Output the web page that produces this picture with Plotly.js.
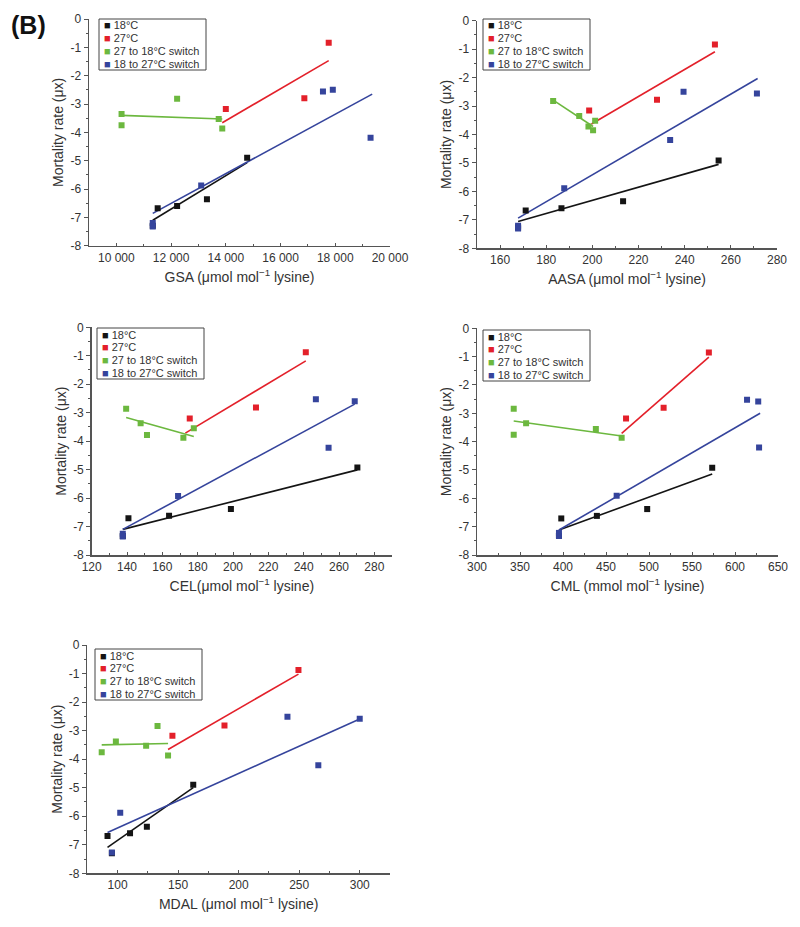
<!DOCTYPE html>
<html>
<head>
<meta charset="utf-8">
<script src="https://cdn.plot.ly/plotly-3.0.1.min.js"></script>
<style>html,body{margin:0;padding:0;background:#fff}#chart{width:800px;height:927px}</style>
</head>
<body>
<div id="chart"></div>
<script>
// ---------- DATA ----------
const seriesNames = ["18°C", "27°C", "27 to 18°C switch", "18 to 27°C switch"];
const yTickVals = [0, -1, -2, -3, -4, -5, -6, -7, -8];
const yTickText = ["0", "-1", "-2", "-3", "-4", "-5", "-6", "-7", "-8"];
const yTitle = "Mortality rate (μx)";

// Panel 1: GSA
const gsaTitle = "GSA (μmol mol<sup>−1</sup> lysine)";
const gsaTickVals = [10000, 12000, 14000, 16000, 18000, 20000];
const gsaTickText = ["10 000", "12 000", "14 000", "16 000", "18 000", "20 000"];
const gsaBlackX = [11330, 11510, 12220, 13310, 14780];
const gsaBlackY = [-7.3, -6.68, -6.6, -6.36, -4.9];
const gsaRedX = [14000, 16870, 17760];
const gsaRedY = [-3.18, -2.8, -0.84];
const gsaGreenX = [10190, 10190, 12220, 13740, 13870];
const gsaGreenY = [-3.35, -3.75, -2.81, -3.53, -3.86];
const gsaBlueX = [11330, 11330, 13100, 17550, 17910, 19290];
const gsaBlueY = [-7.2, -7.32, -5.88, -2.56, -2.5, -4.19];
const gsaFitBlackX = [11330, 14780], gsaFitBlackY = [-7.1, -5.07];
const gsaFitRedX = [13870, 17760], gsaFitRedY = [-3.66, -1.47];
const gsaFitGreenX = [10190, 13870], gsaFitGreenY = [-3.4, -3.53];
const gsaFitBlueX = [11330, 19350], gsaFitBlueY = [-6.86, -2.65];

// Panel 2: AASA
const aasaTitle = "AASA (μmol mol<sup>−1</sup> lysine)";
const aasaTickVals = [160, 180, 200, 220, 240, 260, 280];
const aasaTickText = ["160", "180", "200", "220", "240", "260", "280"];
const aasaBlackX = [167.8, 171.1, 186.6, 213.3, 254.7];
const aasaBlackY = [-7.27, -6.67, -6.59, -6.35, -4.91];
const aasaRedX = [198.6, 228, 253.1];
const aasaRedY = [-3.16, -2.78, -0.84];
const aasaGreenX = [183, 194.3, 198.3, 200.3, 201.2];
const aasaGreenY = [-2.82, -3.35, -3.72, -3.85, -3.52];
const aasaBlueX = [167.8, 167.8, 187.8, 233.7, 239.5, 271.3];
const aasaBlueY = [-7.21, -7.3, -5.89, -4.19, -2.5, -2.56];
const aasaFitBlackX = [167.8, 254.7], aasaFitBlackY = [-7.06, -5.05];
const aasaFitRedX = [199.6, 253.1], aasaFitRedY = [-3.63, -1.09];
const aasaFitGreenX = [183, 200.3], aasaFitGreenY = [-2.79, -3.72];
const aasaFitBlueX = [167.8, 271.6], aasaFitBlueY = [-6.94, -2.03];

// Panel 3: CEL
const celTitle = "CEL(μmol mol<sup>−1</sup> lysine)";
const celTickVals = [120, 140, 160, 180, 200, 220, 240, 260, 280];
const celTickText = ["120", "140", "160", "180", "200", "220", "240", "260", "280"];
const celBlackX = [137.6, 140.8, 163.8, 198.8, 270.4];
const celBlackY = [-7.33, -6.71, -6.62, -6.38, -4.93];
const celRedX = [175.5, 213, 241.2];
const celRedY = [-3.2, -2.82, -0.88];
const celGreenX = [139.5, 147.7, 151.3, 171.9, 177.8];
const celGreenY = [-2.86, -3.37, -3.78, -3.88, -3.55];
const celBlueX = [137.6, 137.6, 168.9, 246.9, 254.1, 268.9];
const celBlueY = [-7.25, -7.35, -5.93, -2.53, -4.23, -2.6];
const celFitBlackX = [137.6, 270.4], celFitBlackY = [-7.1, -5.01];
const celFitRedX = [173, 241.2], celFitRedY = [-3.72, -1.18];
const celFitGreenX = [139.5, 177.8], celFitGreenY = [-3.17, -3.84];
const celFitBlueX = [137.6, 268.9], celFitBlueY = [-7.1, -2.7];

// Panel 4: CML
const cmlTitle = "CML (mmol mol<sup>−1</sup> lysine)";
const cmlTickVals = [300, 350, 400, 450, 500, 550, 600, 650];
const cmlTickText = ["300", "350", "400", "450", "500", "550", "600", "650"];
const cmlBlackX = [395.3, 398, 439.4, 497.9, 573.5];
const cmlBlackY = [-7.32, -6.71, -6.62, -6.38, -4.92];
const cmlRedX = [473.3, 517, 569.6];
const cmlRedY = [-3.18, -2.8, -0.85];
const cmlGreenX = [342.7, 342.7, 357.1, 438.2, 468.2];
const cmlGreenY = [-2.84, -3.76, -3.35, -3.55, -3.86];
const cmlBlueX = [395.3, 395.3, 462.4, 614, 627, 628];
const cmlBlueY = [-7.22, -7.33, -5.91, -2.52, -2.58, -4.21];
const cmlFitBlackX = [395.3, 573.5], cmlFitBlackY = [-7.12, -5.14];
const cmlFitRedX = [468.2, 569.6], cmlFitRedY = [-3.71, -1.02];
const cmlFitGreenX = [342.7, 468.2], cmlFitGreenY = [-3.27, -3.8];
const cmlFitBlueX = [395.3, 629.2], cmlFitBlueY = [-7.12, -3.0];

// Panel 5: MDAL
const mdalTitle = "MDAL (μmol mol<sup>−1</sup> lysine)";
const mdalTickVals = [100, 150, 200, 250, 300];
const mdalTickText = ["100", "150", "200", "250", "300"];
const mdalBlackX = [95.3, 91.7, 110.3, 124.2, 162.5];
const mdalBlackY = [-7.3, -6.69, -6.6, -6.37, -4.9];
const mdalRedX = [145.3, 188.3, 249.4];
const mdalRedY = [-3.18, -2.82, -0.88];
const mdalGreenX = [86.9, 98.6, 123.6, 133, 141.7];
const mdalGreenY = [-3.76, -3.38, -3.53, -2.84, -3.87];
const mdalBlueX = [95.3, 102.2, 240.3, 265.8, 300];
const mdalBlueY = [-7.27, -5.88, -2.51, -4.21, -2.58];
const mdalFitBlackX = [91.7, 162.5], mdalFitBlackY = [-7.09, -5.0];
const mdalFitRedX = [141.7, 249.4], mdalFitRedY = [-3.66, -1.02];
const mdalFitGreenX = [86.9, 141.7], mdalFitGreenY = [-3.5, -3.45];
const mdalFitBlueX = [91.7, 300], mdalFitBlueY = [-6.57, -2.59];

// ---------- STYLE / LAYOUT ----------
const W = 800, H = 927;
const COLORS = ["#141414", "#e3202a", "#6cb83f", "#35449c"];
const FONT = "Liberation Sans, Arial, sans-serif";

const panels = [
  { title: gsaTitle, tv: gsaTickVals, tt: gsaTickText, range: [9000, 20000], minor: 1000,
    box: [89, 390, 19, 245.7], leg: [99, 19],
    pts: [[gsaBlackX, gsaBlackY], [gsaRedX, gsaRedY], [gsaGreenX, gsaGreenY], [gsaBlueX, gsaBlueY]],
    fits: [[gsaFitBlackX, gsaFitBlackY], [gsaFitRedX, gsaFitRedY], [gsaFitGreenX, gsaFitGreenY], [gsaFitBlueX, gsaFitBlueY]] },
  { title: aasaTitle, tv: aasaTickVals, tt: aasaTickText, range: [150, 280], minor: 10,
    box: [477, 777, 20.7, 248.3], leg: [483, 19],
    pts: [[aasaBlackX, aasaBlackY], [aasaRedX, aasaRedY], [aasaGreenX, aasaGreenY], [aasaBlueX, aasaBlueY]],
    fits: [[aasaFitBlackX, aasaFitBlackY], [aasaFitRedX, aasaFitRedY], [aasaFitGreenX, aasaFitGreenY], [aasaFitBlueX, aasaFitBlueY]] },
  { title: celTitle, tv: celTickVals, tt: celTickText, range: [120, 290], minor: 10,
    box: [91.7, 392, 327.3, 555], leg: [97, 328],
    pts: [[celBlackX, celBlackY], [celRedX, celRedY], [celGreenX, celGreenY], [celBlueX, celBlueY]],
    fits: [[celFitBlackX, celFitBlackY], [celFitRedX, celFitRedY], [celFitGreenX, celFitGreenY], [celFitBlueX, celFitBlueY]] },
  { title: cmlTitle, tv: cmlTickVals, tt: cmlTickText, range: [300, 650], minor: 25,
    box: [477, 778, 328.3, 555], leg: [483, 330],
    pts: [[cmlBlackX, cmlBlackY], [cmlRedX, cmlRedY], [cmlGreenX, cmlGreenY], [cmlBlueX, cmlBlueY]],
    fits: [[cmlFitBlackX, cmlFitBlackY], [cmlFitRedX, cmlFitRedY], [cmlFitGreenX, cmlFitGreenY], [cmlFitBlueX, cmlFitBlueY]] },
  { title: mdalTitle, tv: mdalTickVals, tt: mdalTickText, range: [75, 325], minor: 25,
    box: [87.3, 390, 645, 873.3], leg: [95, 649],
    pts: [[mdalBlackX, mdalBlackY], [mdalRedX, mdalRedY], [mdalGreenX, mdalGreenY], [mdalBlueX, mdalBlueY]],
    fits: [[mdalFitBlackX, mdalFitBlackY], [mdalFitRedX, mdalFitRedY], [mdalFitGreenX, mdalFitGreenY], [mdalFitBlueX, mdalFitBlueY]] }
];

const traces = [];
const layout = {
  width: W, height: H,
  margin: { l: 0, r: 0, t: 0, b: 0 },
  paper_bgcolor: "#fff", plot_bgcolor: "#fff",
  showlegend: false,
  font: { family: FONT, color: "#333", size: 12 },
  annotations: [], shapes: []
};

panels.forEach((p, i) => {
  const s = i === 0 ? "" : String(i + 1);
  const xa = "x" + s, ya = "y" + s;
  p.fits.forEach((f, k) => {
    traces.push({ type: "scatter", mode: "lines", x: f[0], y: f[1], xaxis: xa, yaxis: ya,
      name: seriesNames[k] + " fit",
      line: { color: COLORS[k], width: 1.6 }, hoverinfo: "skip", showlegend: false });
  });
  p.pts.forEach((d, k) => {
    traces.push({ type: "scatter", mode: "markers", x: d[0], y: d[1], xaxis: xa, yaxis: ya,
      name: seriesNames[k], marker: { symbol: "square", size: 6, color: COLORS[k], line: { width: 0 } },
      showlegend: false });
  });
  const [L, R, T, B] = p.box;
  layout["xaxis" + s] = {
    domain: [L / W, R / W], anchor: ya, range: p.range,
    showline: true, linecolor: "#555", linewidth: 1.5, showgrid: false, zeroline: false,
    tickmode: "array", tickvals: p.tv, ticktext: p.tt,
    ticks: "inside", ticklen: 3, tickwidth: 1, tickcolor: "#555",
    minor: { ticks: "inside", ticklen: 2, dtick: p.minor, tick0: p.tv[0], tickcolor: "#555", showgrid: false },
    tickfont: { family: FONT, size: 12, color: "#333" },
    title: { text: p.title, font: { family: FONT, size: 14, color: "#333" }, standoff: 8 },
    fixedrange: true
  };
  layout["yaxis" + s] = {
    domain: [1 - B / H, 1 - T / H], anchor: xa, range: [-8, 0],
    showline: true, linecolor: "#555", linewidth: 1.5, showgrid: false, zeroline: false,
    tickmode: "array", tickvals: yTickVals, ticktext: yTickText,
    ticks: "outside", ticklen: 4, tickwidth: 1, tickcolor: "#555",
    minor: { ticks: "outside", ticklen: 2, dtick: 0.5, tick0: 0, tickcolor: "#555", showgrid: false },
    tickfont: { family: FONT, size: 12, color: "#333" },
    title: { text: yTitle, font: { family: FONT, size: 14, color: "#333" }, standoff: 3 },
    fixedrange: true
  };
  const [lx, ly] = p.leg;
  layout.shapes.push({ type: "rect", xref: "paper", yref: "paper",
    x0: lx / W, x1: (lx + 107) / W, y0: 1 - ly / H, y1: 1 - (ly + 51) / H,
    line: { color: "#444", width: 1 }, fillcolor: "rgba(255,255,255,0)" });
  seriesNames.forEach((nm, k) => {
    layout.annotations.push({ xref: "paper", yref: "paper",
      x: (lx + 3) / W, y: 1 - (ly + 6.5 + k * 12.8) / H, xanchor: "left", yanchor: "middle",
      showarrow: false, align: "left",
      text: '<span style="color:' + COLORS[k] + '">■</span> ' + nm,
      font: { family: FONT, size: 11, color: "#333" } });
  });
});

layout.annotations.push({ xref: "paper", yref: "paper", x: 9 / W, y: 1 - 9 / H,
  xanchor: "left", yanchor: "top", showarrow: false, text: "<b>(B)</b>",
  font: { family: FONT, size: 25, color: "#111" } });

Plotly.newPlot("chart", traces, layout, { staticPlot: true, displayModeBar: false });
</script>
</body>
</html>
